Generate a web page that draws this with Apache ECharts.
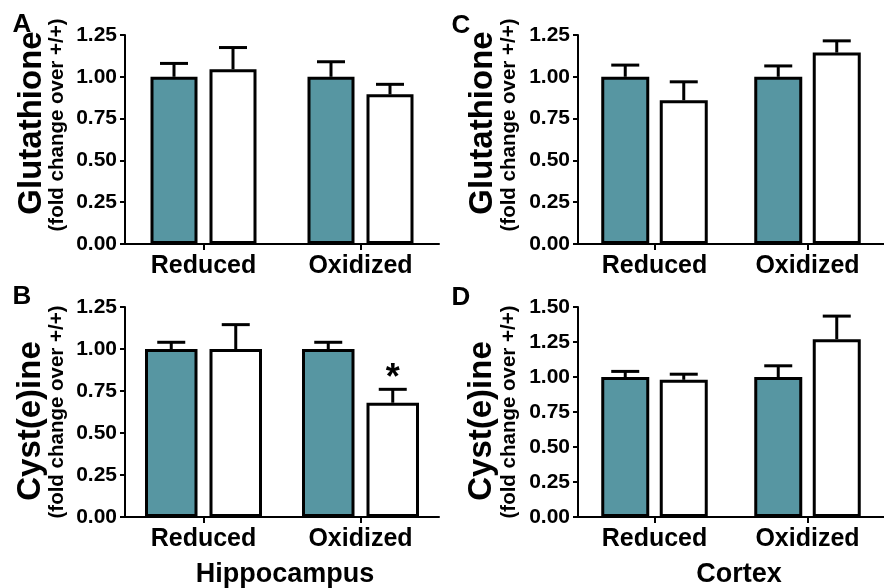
<!DOCTYPE html>
<html>
<head>
<meta charset="utf-8">
<script src="https://cdn.jsdelivr.net/npm/echarts@6/dist/echarts.min.js"></script>
<style>html,body{margin:0;padding:0;background:#fff;}#c{width:884px;height:588px;}</style>
</head>
<body>
<div id="c"></div>
<script>
// ---------- DATA ----------
const categories = ['Reduced', 'Oxidized'];
const yTickFormatDigits = 2;
const yInterval = 0.25;

// Panel A: Glutathione, Hippocampus
const hippoGshWt = [1.00, 1.00];
const hippoGshWtErr = [0.08, 0.09];
const hippoGshMut = [1.045, 0.895];
const hippoGshMutErr = [0.13, 0.06];
const hippoGshMax = 1.25;

// Panel B: Cyst(e)ine, Hippocampus
const hippoCysWt = [1.00, 1.00];
const hippoCysWtErr = [0.04, 0.04];
const hippoCysMut = [1.00, 0.68];
const hippoCysMutErr = [0.145, 0.08];
const hippoCysMutSig = [false, true];
const hippoCysMax = 1.25;

// Panel C: Glutathione, Cortex
const cortexGshWt = [1.00, 1.00];
const cortexGshWtErr = [0.07, 0.065];
const cortexGshMut = [0.86, 1.145];
const cortexGshMutErr = [0.11, 0.07];
const cortexGshMax = 1.25;

// Panel D: Cyst(e)ine, Cortex
const cortexCysWt = [1.00, 1.00];
const cortexCysWtErr = [0.04, 0.08];
const cortexCysMut = [0.98, 1.27];
const cortexCysMutErr = [0.04, 0.165];
const cortexCysMax = 1.50;

// ---------- STYLE / LAYOUT ----------
const FONT = '"Liberation Sans", Arial, Helvetica, sans-serif';
const TEAL = '#5796a2';
const panels = [
  {wt: hippoGshWt, wtErr: hippoGshWtErr, mut: hippoGshMut, mutErr: hippoGshMutErr, sig: [false, false], max: hippoGshMax,
   grid: {left: 125, top: 35, width: 314, height: 209}, barW: 47, gapPx: 12},
  {wt: hippoCysWt, wtErr: hippoCysWtErr, mut: hippoCysMut, mutErr: hippoCysMutErr, sig: hippoCysMutSig, max: hippoCysMax,
   grid: {left: 125, top: 307, width: 314, height: 210}, barW: 52.5, gapPx: 12},
  {wt: cortexGshWt, wtErr: cortexGshWtErr, mut: cortexGshMut, mutErr: cortexGshMutErr, sig: [false, false], max: cortexGshMax,
   grid: {left: 578, top: 35, width: 314, height: 209}, barW: 48, gapPx: 10.5},
  {wt: cortexCysWt, wtErr: cortexCysWtErr, mut: cortexCysMut, mutErr: cortexCysMutErr, sig: [false, false], max: cortexCysMax,
   grid: {left: 578, top: 307, width: 314, height: 210}, barW: 48, gapPx: 10.5}
];

const grids = [], xAxes = [], yAxes = [], series = [];
panels.forEach((p, i) => {
  grids.push(Object.assign({containLabel: false}, p.grid));
  xAxes.push({
    type: 'category', gridIndex: i, data: categories,
    axisLine: {show: true, lineStyle: {color: '#000', width: 2}},
    axisTick: {show: true, alignWithLabel: true, length: 6, lineStyle: {color: '#000', width: 2}},
    axisLabel: {color: '#000', fontSize: 25, fontWeight: 'bold', fontFamily: FONT, margin: 10},
    splitLine: {show: false}
  });
  yAxes.push({
    type: 'value', gridIndex: i, min: 0, max: p.max, interval: yInterval,
    axisLine: {show: true, lineStyle: {color: '#000', width: 2}},
    axisTick: {show: true, length: 5, lineStyle: {color: '#000', width: 2}},
    axisLabel: {color: '#000', fontSize: 21, fontWeight: 'bold', fontFamily: FONT, margin: 8,
      formatter: v => v.toFixed(yTickFormatDigits)},
    splitLine: {show: false}
  });
  const gapPct = (p.gapPx / p.barW * 100) + '%';
  series.push({
    type: 'bar', xAxisIndex: i, yAxisIndex: i, data: p.wt, barWidth: p.barW, barGap: gapPct,
    itemStyle: {color: TEAL, borderColor: '#000', borderWidth: 3}, z: 2
  });
  series.push({
    type: 'bar', xAxisIndex: i, yAxisIndex: i, data: p.mut, barWidth: p.barW, barGap: gapPct,
    itemStyle: {color: '#fff', borderColor: '#000', borderWidth: 3}, z: 2
  });
  const errData = [];
  categories.forEach((c, k) => {
    errData.push([k, p.wt[k], p.wtErr[k], 0, 0]);
    errData.push([k, p.mut[k], p.mutErr[k], 1, p.sig[k] ? 1 : 0]);
  });
  const offset = (p.barW + p.gapPx) / 2;
  series.push({
    type: 'custom', xAxisIndex: i, yAxisIndex: i, data: errData, z: 3,
    encode: {x: 0, y: 1},
    renderItem: function (params, api) {
      const k = api.value(0), v = api.value(1), e = api.value(2), g = api.value(3), s = api.value(4);
      const b = api.coord([k, v]);
      const t = api.coord([k, v + e]);
      const x = b[0] + (g === 0 ? -offset : offset);
      const capHalf = 14;
      const children = [
        {type: 'line', shape: {x1: x, y1: b[1], x2: x, y2: t[1]}, style: {stroke: '#000', lineWidth: 3}},
        {type: 'line', shape: {x1: x - capHalf, y1: t[1], x2: x + capHalf, y2: t[1]}, style: {stroke: '#000', lineWidth: 3}}
      ];
      if (s) {
        children.push({type: 'text', style: {text: '*', x: x, y: t[1] + 8, align: 'center', verticalAlign: 'bottom',
          fontSize: 36, fontWeight: 'bold', fontFamily: FONT, fill: '#000'}});
      }
      return {type: 'group', children: children};
    }
  });
});

function txt(text, x, y, size, rot) {
  return {type: 'text', x: x, y: y, rotation: rot || 0,
    style: {text: text, fontSize: size, fontWeight: 'bold', fontFamily: FONT, fill: '#000',
      align: 'center', verticalAlign: 'middle'}};
}

const graphics = [
  txt('A', 22, 25, 26), txt('C', 461, 26, 26), txt('B', 22, 297, 26), txt('D', 461, 298, 26),
  txt('Glutathione', 32, 123, 33, Math.PI / 2),
  txt('(fold change over +/+)', 57, 125, 20.5, Math.PI / 2),
  txt('Glutathione', 483, 123, 33, Math.PI / 2),
  txt('(fold change over +/+)', 509, 125, 20.5, Math.PI / 2),
  txt('Cyst(e)ine', 31, 421, 33, Math.PI / 2),
  txt('(fold change over +/+)', 57, 412, 20.5, Math.PI / 2),
  txt('Cyst(e)ine', 482, 421, 33, Math.PI / 2),
  txt('(fold change over +/+)', 509, 412, 20.5, Math.PI / 2),
  txt('Hippocampus', 285, 575, 27),
  txt('Cortex', 739, 575, 27)
];

const chart = echarts.init(document.getElementById('c'), null, {renderer: 'canvas'});
chart.setOption({
  animation: false,
  backgroundColor: '#fff',
  grid: grids, xAxis: xAxes, yAxis: yAxes, series: series,
  graphic: graphics
});
</script>
</body>
</html>
